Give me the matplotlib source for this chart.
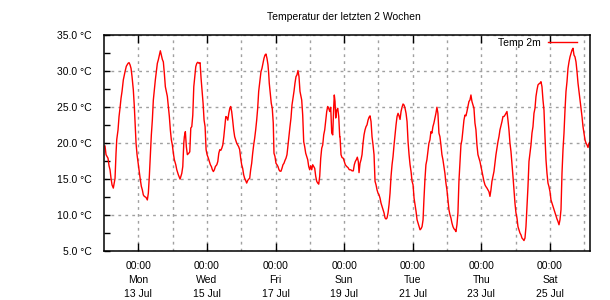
import matplotlib

matplotlib.use("Agg")

import matplotlib.pyplot as plt
import matplotlib.dates as mdates
from matplotlib.ticker import MultipleLocator, FuncFormatter
import numpy as np
import pandas as pd

# time axis: hours after 12 Jul 2015 00:00
start = pd.Timestamp("2015-07-12 00:00")
hours = [
    0.7, 1.4, 2.8, 3.5, 4.2, 4.9, 5.6, 6.5, 7.0, 7.7, 8.4, 8.9, 9.8, 10.5, 11.2, 11.9,
    12.6, 13.5, 14.7, 15.6, 16.8, 17.5, 18.2, 18.9, 19.6, 20.5, 21.2, 21.9, 22.4, 23.1,
    24.0, 24.7, 25.4, 26.1, 26.8, 27.5, 28.2, 29.4, 30.3, 31.0, 31.7, 32.4, 33.1, 33.8,
    34.5, 35.2, 35.9, 36.6, 37.3, 38.0, 38.7, 39.4, 40.1, 40.8, 41.5, 42.2, 42.9, 43.6,
    44.3, 45.0, 45.7, 46.4, 47.1, 47.8, 48.5, 49.2, 50.2, 50.9, 52.0, 53.2,
    54.4, 55.1, 55.8, 56.2, 56.9, 57.6, 58.3, 59.3, 60.0, 60.7, 61.4, 62.1, 62.8, 63.5,
    64.2, 64.9, 65.6, 66.5, 67.2, 67.9, 68.6, 69.3, 70.0, 70.7, 71.4, 72.1, 73.0, 73.7,
    74.4, 75.1, 75.8, 76.5, 77.2, 77.9, 78.9, 79.6, 80.3, 81.0, 81.7, 82.4, 83.1, 83.8,
    84.5, 85.2, 85.9, 86.6, 87.3, 88.0, 88.6, 89.3, 90.0, 90.7, 91.4, 92.1, 92.8, 93.5,
    94.2, 94.9, 95.6, 96.3, 97.0, 97.7, 98.4, 99.1, 99.8, 100.5, 101.2, 101.9, 102.6,
    103.3, 104.0, 104.7, 105.4, 106.1, 106.8, 107.5, 108.2, 108.9,
    109.8, 110.5, 111.2, 111.9, 112.6, 113.3, 114.0, 114.7, 115.2, 115.6, 116.3, 117.0,
    117.7, 118.4, 118.9, 119.6, 120.3, 121.0, 121.7, 122.4, 123.1, 123.8, 124.5, 125.2,
    125.9, 126.6, 127.3, 128.0, 128.7, 129.4, 130.1, 130.8, 131.5, 132.2, 132.9, 133.6,
    134.3, 135.0, 135.7, 136.4, 137.1, 137.8, 138.3, 139.0, 139.7, 140.4, 141.1, 141.8,
    142.5, 143.2, 143.9, 144.6, 145.3, 146.0, 146.7, 147.4, 148.1, 148.8, 149.5, 150.2,
    150.9, 151.6, 152.3, 153.0, 153.7, 154.4, 155.1, 155.8, 156.5, 157.2, 157.9, 158.6,
    159.3, 160.0, 160.7, 161.1, 161.6, 162.1, 162.8, 163.5, 164.2, 164.9,
    165.1, 165.8, 166.5, 167.4, 168.1, 168.8, 169.8, 170.7, 171.6, 172.6, 173.5, 174.4,
    175.1, 175.8, 176.5, 177.2, 177.9, 178.4, 179.1, 179.8, 180.5, 181.2, 181.9, 182.6,
    183.3, 184.0, 184.7, 185.4, 186.1, 186.8, 187.5, 188.2, 188.9, 189.6, 190.3, 191.0,
    191.7, 192.4, 193.1, 193.8, 194.5, 195.2, 195.9, 196.6, 197.3, 198.0, 198.7, 199.4,
    200.1, 200.8, 201.5, 202.2, 202.9, 203.6, 204.3, 205.0, 205.7, 206.4, 207.1, 207.8,
    208.5, 209.2, 209.9, 210.6, 211.3, 212.0, 212.7, 213.4, 214.1, 214.8, 215.5, 216.2,
    216.9, 217.6, 218.3, 219.0, 219.7, 220.4, 221.1,
    221.8, 222.5, 223.2, 223.8, 224.5, 225.2, 225.9, 226.6, 227.3, 228.0, 228.7, 229.4,
    230.1, 230.8, 231.5, 232.2, 232.9, 233.6, 234.3, 235.0, 235.7, 236.4, 237.1, 237.8,
    238.5, 239.2, 239.9, 240.6, 241.3, 242.0, 242.7, 243.4, 244.1, 244.8, 245.5, 246.2,
    246.9, 247.6, 248.3, 249.0, 249.7, 250.4, 251.1, 251.8, 252.5, 253.2, 253.9, 254.6,
    255.3, 256.0, 256.7, 257.4, 258.1, 258.8, 259.5, 260.2, 260.9, 261.6, 262.3, 263.0,
    263.7, 264.4, 265.1, 265.8, 266.5, 267.2, 267.9, 268.6, 269.3, 270.0, 270.7, 271.4,
    272.1, 272.8, 273.5, 274.2, 274.9, 275.6, 276.3, 277.0,
    278.4, 279.1, 279.8, 280.5, 281.2, 281.9, 282.6, 283.3, 284.0, 284.7, 285.4, 286.1,
    286.8, 287.5, 288.2, 288.9, 289.6, 290.3, 291.0, 291.7, 292.4, 293.1, 293.8, 294.5,
    295.2, 295.9, 296.6, 297.3, 298.0, 298.7, 299.4, 300.1, 300.8, 301.5, 302.2, 302.9,
    303.6, 304.3, 305.0, 305.7, 306.4, 307.1, 307.8, 308.5, 309.2, 309.9, 310.6, 311.3,
    312.0, 312.7, 313.4, 314.1, 314.8, 315.5, 316.2, 316.9, 317.6, 318.3, 319.0, 319.7,
    320.4, 321.1, 321.8, 322.5, 323.2, 323.9, 324.6, 325.3, 326.0, 326.7, 327.4, 328.1,
    328.8, 329.5, 330.2, 330.9, 331.6, 332.3, 333.0, 333.7, 334.4, 335.1, 335.8, 336.5,
    337.2, 337.9, 338.6, 339.3, 339.9,
]
temp_2m = [
    19.6, 18.4, 17.9, 16.85, 16.3, 15.1, 14.2, 13.75, 14.35, 15.1, 18.6, 20.5, 21.85, 23.7,
    24.9, 26.25, 27.2, 28.8, 29.95, 30.7, 31.1, 31.2, 30.9, 30.4, 29.25, 27.4, 25.1, 22.3,
    20.0, 18.4, 17.0, 15.8, 14.9, 14.0, 13.5, 12.8, 12.6, 12.45, 12.1, 13.05, 15.4, 18.4,
    21.15, 23.2, 26.0, 27.4, 28.8, 29.95, 31.1, 31.6, 32.25, 32.85, 32.25, 31.65, 31.3,
    29.7, 27.85, 27.2, 26.5, 25.1, 23.7, 21.85, 20.45, 19.75, 18.6, 17.7, 17.0, 16.3, 15.6,
    15.0,
    15.8, 16.75, 20.0, 20.9, 21.6, 19.5, 18.4, 18.6, 18.8, 22.1, 22.3, 23.9, 27.85, 29.25,
    30.65, 31.1, 31.25, 31.1, 31.2, 29.0, 27.2, 25.55, 23.2, 22.3, 19.1, 18.4, 17.9, 17.45,
    17.0, 16.75, 16.3, 16.05, 16.3, 16.75, 17.0, 17.45, 18.6, 19.1, 19.0, 19.3, 19.75, 20.9,
    22.3, 23.7, 23.6, 23.2, 24.15, 24.85, 25.1, 24.4, 23.2, 21.85, 20.9, 20.45, 20.0, 19.75,
    19.5, 19.1, 17.9, 17.0, 16.5, 15.6, 15.1, 14.8, 14.45, 14.8, 15.0, 15.1, 16.3,
    17.2, 18.6, 19.75, 20.7, 21.85, 23.2, 24.85, 27.2, 28.35,
    29.95, 30.4, 31.1, 31.8, 32.25, 32.4, 31.8, 30.9, 29.7, 28.35, 26.95, 25.55,
    24.85, 22.8, 18.6, 18.15, 17.2, 17.0, 16.75, 16.3, 16.1, 16.1, 16.5, 17.0,
    17.2, 17.6, 17.9, 18.4, 19.75, 21.15, 22.3, 23.5, 25.3, 26.25, 27.2, 28.35,
    29.25, 29.5, 30.1, 29.25, 27.2, 26.5, 26.0, 23.9, 20.2, 19.5, 18.6, 18.15,
    17.7, 16.75, 16.3, 16.85, 16.3, 17.0, 16.75, 16.5, 15.4, 14.7, 14.45, 14.3,
    15.4, 17.9, 19.3, 19.75, 21.15, 21.85, 23.2, 24.4, 25.1, 24.85, 24.4, 25.0,
    21.4, 21.15, 25.1, 26.7, 25.8, 23.5, 24.6, 24.85, 23.7, 20.9,
    20.9, 18.4, 18.0, 17.9, 17.45, 17.0, 16.75, 16.6, 16.3, 16.3, 16.15, 16.15,
    17.0, 17.45, 17.7, 18.05, 17.45, 15.9, 17.2, 17.7, 18.4, 20.0, 21.15, 21.85,
    22.3, 22.55, 23.2, 23.6, 23.8, 23.0, 20.9, 19.75, 18.4, 14.7, 14.2, 13.5,
    13.05, 12.8, 12.35, 11.65, 11.2, 10.75, 10.3, 9.6, 9.45, 9.6, 10.3, 11.45,
    13.05, 15.4, 17.0, 18.15, 19.75, 21.15, 22.55, 23.7, 24.15, 23.8, 23.3, 24.4,
    25.0, 25.45, 25.3, 24.85, 24.15, 23.0, 20.2, 18.4, 17.0, 16.05, 14.7, 14.2,
    12.35, 11.45, 10.5, 9.35, 8.9, 8.4, 7.95,
    8.1, 8.4, 9.35, 12.1, 14.9, 17.0, 17.7, 18.85, 20.0, 20.45, 21.6, 21.4,
    22.3, 22.8, 23.5, 24.15, 25.0, 24.15, 21.4, 20.9, 19.75, 18.4, 17.7, 16.75,
    15.8, 14.45, 13.5, 12.1, 10.75, 10.05, 9.6, 8.9, 8.4, 8.1, 7.95, 7.7,
    8.65, 10.3, 14.7, 17.2, 19.75, 20.45, 21.85, 23.2, 23.9, 23.8, 24.4, 25.1,
    25.8, 26.0, 26.7, 25.8, 25.3, 24.85, 22.8, 21.85, 19.75, 18.4, 17.9, 17.45,
    16.75, 16.05, 15.4, 14.7, 14.2, 13.95, 13.75, 13.5, 13.25, 12.6, 13.5, 14.7,
    15.4, 16.05, 17.2, 18.4, 19.3, 20.2, 20.9, 21.85,
    23.0, 23.7, 23.7, 23.9, 24.15, 24.4, 23.2, 21.85, 20.0, 18.85, 17.2, 15.4,
    13.5, 11.65, 10.3, 9.6, 8.4, 7.95, 7.5, 7.25, 6.8, 6.65, 6.45, 6.8,
    8.4, 11.2, 13.95, 17.45, 18.6, 19.75, 21.4, 22.3, 24.15, 24.85, 26.5, 27.4,
    28.1, 28.25, 28.35, 28.55, 27.85, 26.0, 24.6, 20.9, 17.7, 15.8, 14.45, 13.95,
    13.25, 12.1, 11.65, 11.2, 10.75, 10.3, 9.8, 9.45, 9.1, 8.65, 9.35, 10.75,
    15.8, 19.1, 21.4, 24.6, 27.2, 28.55, 30.4, 31.3, 32.0, 32.5, 32.95, 33.2,
    32.25, 32.0, 31.3, 29.95, 28.35, 27.2, 26.0, 24.85, 23.7, 22.3, 21.4, 20.45,
    20.0, 19.75, 19.4, 20.0, 20.1,
]

title = "Temperatur der letzten 2 Wochen"
series_label = "Temp 2m"
y_range = (5.0, 35.0)
x_range = ("2015-07-12 00:12", "2015-07-26 04:12")

plt.rcParams["font.family"] = ["Liberation Sans", "DejaVu Sans"]
plt.rcParams["font.size"] = 7.5

times = start + pd.to_timedelta(hours, unit="h")

fig = plt.figure(figsize=(6.1, 3.0), dpi=100)
ax = fig.add_axes([0.171, 0.1633, 0.7967, 0.719])

ax.plot(times, temp_2m, color="#ff0000", linewidth=1.0, label=series_label)

ax.set_xlim(pd.Timestamp(x_range[0]), pd.Timestamp(x_range[1]))
ax.set_ylim(*y_range)

# x: labelled ticks every other day, dotted grid every day
ax.xaxis.set_major_locator(mdates.DayLocator(bymonthday=range(1, 32, 2)))
ax.xaxis.set_minor_locator(mdates.DayLocator())
ax.xaxis.set_major_formatter(mdates.DateFormatter("%H:%M\n%a\n%d %b"))
ax.tick_params(axis="x", which="major", direction="in", length=6, width=1,
               top=True, bottom=True, pad=7)
ax.tick_params(axis="x", which="minor", length=0)
for lbl in ax.get_xticklabels():
    lbl.set_linespacing(1.5)

# y: labels every 5 degrees, short ticks every 2.5
ax.yaxis.set_major_locator(MultipleLocator(5))
ax.yaxis.set_minor_locator(MultipleLocator(2.5))
ax.yaxis.set_major_formatter(FuncFormatter(lambda v, _: f"{v:.1f} \u00b0C"))
ax.tick_params(axis="y", which="both", direction="in", length=4, width=1,
               left=True, right=False, pad=9)

ax.grid(True, which="major", axis="y", color="#a0a0a0", linestyle=(0, (2, 3)), linewidth=1)
ax.grid(True, which="both", axis="x", color="#a0a0a0", linestyle=(0, (2, 3)), linewidth=1)

for spine in ax.spines.values():
    spine.set_linewidth(1.1)

fig.text(0.563, 0.943, title, ha="center", va="center", fontsize=7.5)

ax.legend(loc="upper right", bbox_to_anchor=(0.981, 1.008), frameon=False,
          markerfirst=False, handlelength=2.8, borderaxespad=0.0,
          handletextpad=0.7, fontsize=7.5)

fig.savefig("out.png", dpi=100)
